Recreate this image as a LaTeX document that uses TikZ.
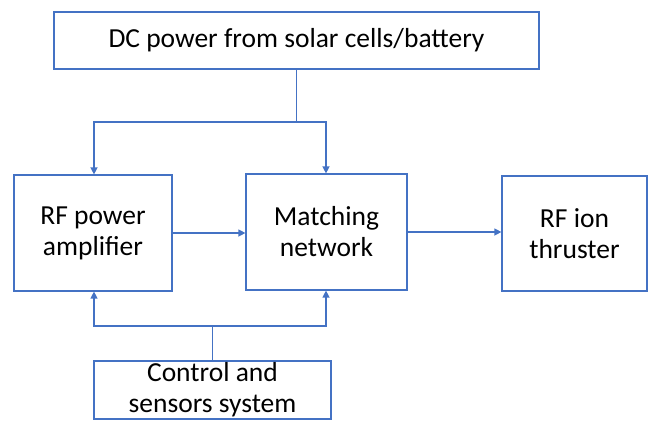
\documentclass[tikz,border=0pt]{standalone}
\usepackage{fontspec}
\setmainfont{Carlito}
\usetikzlibrary{arrows.meta}
\definecolor{bl}{HTML}{4472C4}
\begin{document}
\begin{tikzpicture}[x=1pt,y=-1pt,
  box/.style={draw=bl, line width=1.2pt, inner sep=0pt, align=center,
              font=\fontsize{27.5}{31}\selectfont},
  conn/.style={draw=bl, line width=1.3pt, line cap=rect},
  arr/.style={conn, -{Triangle[length=7pt,width=7pt]}}]
\useasboundingbox (0,0) rectangle (649,421);
\fill[white] (0,0) rectangle (649,421);
\node[box, minimum width=485pt, minimum height=57pt] (dc) at (296.5,40.5)
  {DC power from solar cells/battery};
\node[box, minimum width=158pt, minimum height=116pt] (amp) at (93,233)
  {RF power\\amplifier};
\node[box, minimum width=161pt, minimum height=116pt] (mn) at (326.5,232)
  {Matching\\network};
\node[box, minimum width=145pt, minimum height=115pt] (rf) at (574.5,233.5)
  {RF ion\\thruster};
\node[box, minimum width=237pt, minimum height=58pt] (ctl) at (212.5,390)
  {Control and\\sensors system};
\coordinate (tl) at (94,122);
\coordinate (tr) at (326,122);
\coordinate (bl) at (94,326);
\coordinate (br) at (326,326);
\draw[conn] (dc.south) -- (dc.south |- tl);
\draw[conn] (tl) -- (tr);
\draw[arr] (tl) -- (tl |- amp.north);
\draw[arr] (tr) -- (tr |- mn.north);
\draw[conn] (ctl.north) -- (ctl.north |- bl);
\draw[conn] (bl) -- (br);
\draw[arr] (bl) -- (bl |- amp.south);
\draw[arr] (br) -- (br |- mn.south);
\draw[arr] (amp.east) -- (mn.west |- amp.east);
\draw[arr] (mn.east) -- (rf.west |- mn.east);
\end{tikzpicture}
\end{document}
